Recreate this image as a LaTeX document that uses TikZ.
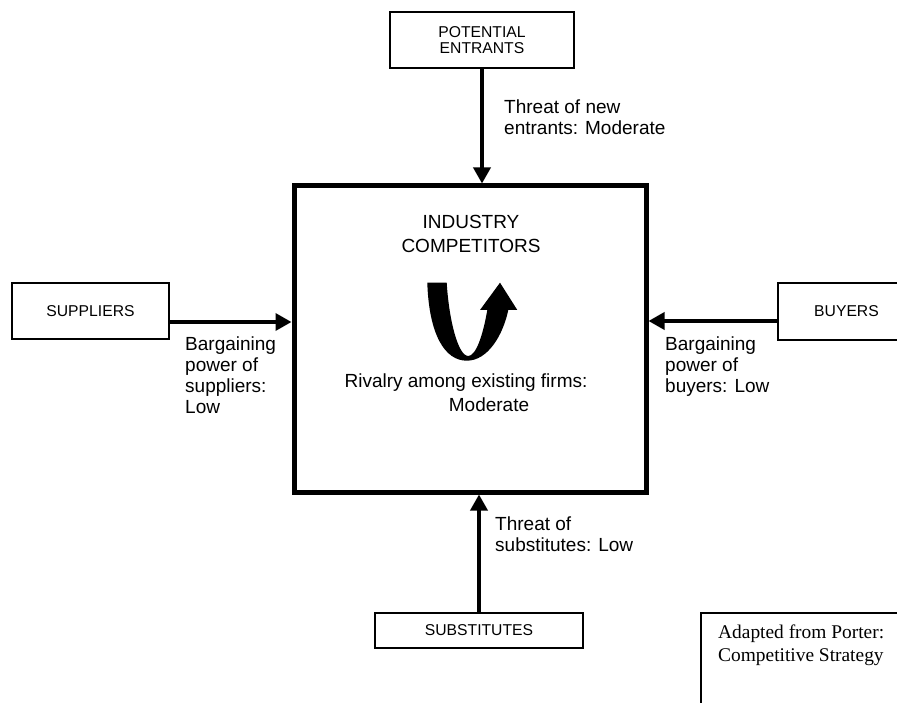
\documentclass[tikz,border=0pt]{standalone}
\usepackage{fontspec}
\setmainfont{Liberation Sans}
\newfontfamily\serifnote{Liberation Serif}
\usetikzlibrary{arrows.meta}
\begin{document}
\begin{tikzpicture}[x=1pt,y=-1pt,
  thinbox/.style={draw, line width=2pt, inner sep=0pt, align=center,
                  font=\fontsize{15.7}{16.5}\selectfont},
  bigbox/.style={draw, line width=5pt, minimum width=352pt, minimum height=306pt},
  flow/.style={line width=3.5pt, -{Triangle[width=17pt,length=16pt]}},
  lbl/.style={font=\fontsize{19}{21}\selectfont, align=left, inner sep=0pt, anchor=north west},
  ctr/.style={font=\fontsize{19}{24}\selectfont, align=center, inner sep=0pt, anchor=north}]
\fill[white] (0,0) rectangle (897,703);
\useasboundingbox (0,0) rectangle (897,703);
\clip (0,0) rectangle (897,703);

% boxes
\node[bigbox] (ic) at (470,339) {};
\node[thinbox, minimum width=184pt, minimum height=56pt] (pe) at (482,40) {POTENTIAL\\ENTRANTS};
\node[thinbox, minimum width=157pt, minimum height=56pt] (sup) at (90.5,311) {SUPPLIERS};
\node[thinbox, minimum width=137pt, minimum height=57pt] (buy) at (846.5,311.5) {BUYERS};
\node[thinbox, minimum width=208pt, minimum height=35pt] (sub) at (479,630.5) {SUBSTITUTES};

% central texts
\node[ctr] (ictitle) at (471,215) {INDUSTRY\\COMPETITORS};
\node[ctr] (rival) at (466,374) {Rivalry among existing firms:\\\hspace*{46pt}Moderate};

% U-turn arrow
\fill (427.3,282.7) .. controls (429,335) and (445,360.7) .. (466.7,360.7)
  .. controls (488,360.7) and (503,335) .. (508.3,310)
  -- (517.3,310) -- (500,282.7) -- (480,310) -- (487.3,310)
  .. controls (483,335) and (476,356) .. (468.3,356)
  .. controls (458,356) and (449,320) .. (446.7,282.7) -- cycle;

% connectors
\draw[flow] (pe.south) -- (pe.south |- ic.north);
\draw[flow] (sub.north) -- (sub.north |- ic.south);
\draw[flow] ([yshift=-11pt]sup.east) -- ([yshift=-11pt]sup.east -| ic.west);
\draw[flow] ([yshift=-9.5pt]buy.west) -- ([yshift=-9.5pt]buy.west -| ic.east);

% labels
\node[lbl] (lpe) at (504,100) {Threat of new\\entrants: Moderate};
\node[lbl] (lsub) at (495,517) {Threat of\\substitutes: Low};
\node[lbl] (lsup) at (185,337) {Bargaining\\power of\\suppliers:\\Low};
\node[lbl] (lbuy) at (665,337) {Bargaining\\power of\\buyers: Low};

% source note
\node[draw, line width=1.5pt, anchor=north west, minimum width=230pt, minimum height=120pt] (note) at (700,612) {};
\node[anchor=north west, inner sep=0pt, align=left,
      font=\serifnote\fontsize{19.4}{23}\selectfont] (notetxt) at (718,625)
      {Adapted from Porter:\\Competitive Strategy};
\end{tikzpicture}
\end{document}
